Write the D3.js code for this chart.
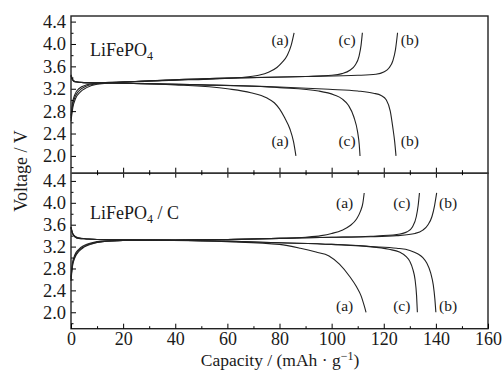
<!DOCTYPE html>
<html>
<head>
<meta charset="utf-8">
<script src="https://cdn.jsdelivr.net/npm/d3@7"></script>
<style>
  body { margin: 0; background: #fff; }
  text { font-family: "Liberation Serif", "DejaVu Serif", serif; fill: #1a1a1a; }
</style>
</head>
<body>
<svg id="chart" width="503" height="372"></svg>
<script>
// capacity (mAh/g), voltage (V)
const capacityTicks = [0, 20, 40, 60, 80, 100, 120, 140, 160];
const voltageTicks = [2.0, 2.4, 2.8, 3.2, 3.6, 4.0, 4.4];

// LiFePO4 panel
const lfpChargeA = [[0,2.72],[0.6,2.95],[1.5,3.1],[3,3.2],[6,3.27],[10,3.3],[25,3.33],[45,3.36],[65,3.4],[72,3.44],[76,3.5],[79,3.58],[81,3.67],[83,3.8],[84.5,3.98],[85.6,4.2]];
const lfpChargeC = [[0,2.67],[0.6,2.9],[1.6,3.06],[3,3.16],[6,3.25],[10,3.29],[30,3.34],[60,3.39],[90,3.42],[100,3.44],[104,3.47],[107,3.53],[109,3.62],[110.5,3.78],[111.3,3.98],[111.8,4.2]];
const lfpChargeB = [[0,2.62],[0.7,2.86],[1.8,3.03],[3.5,3.14],[6,3.22],[10,3.28],[30,3.34],[60,3.39],[90,3.42],[110,3.44],[117,3.46],[120,3.5],[122,3.57],[123.5,3.7],[124.5,3.9],[125.3,4.2]];
const lfpDischargeA = [[0,3.45],[0.5,3.38],[1.5,3.33],[5,3.31],[20,3.3],[40,3.27],[60,3.2],[69,3.13],[75,3.04],[78,2.95],[80,2.84],[82,2.68],[84,2.48],[85.4,2.25],[86.3,2.0]];
const lfpDischargeC = [[0,3.44],[0.5,3.37],[1.5,3.33],[5,3.31],[20,3.3],[50,3.27],[80,3.22],[95,3.16],[101,3.09],[104,3.02],[106.5,2.9],[108.5,2.7],[110,2.42],[110.6,2.2],[110.9,2.0]];
const lfpDischargeB = [[0,3.43],[0.5,3.36],[1.5,3.32],[5,3.31],[20,3.3],[50,3.27],[80,3.23],[99,3.19],[110,3.16],[116,3.12],[119,3.08],[121,3.0],[122.5,2.8],[123.5,2.5],[124.2,2.25],[124.7,2.0]];

// LiFePO4 / C panel
const lfpcChargeA = [[0,2.6],[0.5,2.85],[1.5,3.02],[3,3.13],[5,3.2],[8,3.26],[12,3.29],[20,3.31],[40,3.32],[60,3.33],[80,3.35],[90,3.37],[96,3.4],[100,3.44],[104,3.5],[107,3.58],[109.5,3.7],[111,3.84],[112,4.0],[112.5,4.18]];
const lfpcChargeC = [[0,2.64],[0.5,2.88],[1.5,3.05],[3,3.15],[5,3.22],[8,3.27],[12,3.3],[20,3.31],[40,3.32],[60,3.33],[80,3.35],[100,3.37],[115,3.39],[125,3.42],[129,3.47],[131,3.56],[132.5,3.75],[133.2,3.95],[133.7,4.18]];
const lfpcChargeB = [[0,2.57],[0.5,2.82],[1.5,3.0],[3,3.11],[5,3.19],[8,3.25],[12,3.29],[20,3.31],[40,3.32],[60,3.33],[80,3.35],[100,3.37],[115,3.38],[125,3.4],[132,3.44],[135,3.5],[137,3.6],[138.5,3.75],[139.5,3.95],[140.3,4.18]];
const lfpcDischargeA = [[0,3.56],[0.5,3.46],[1.5,3.39],[3,3.36],[6,3.34],[10,3.33],[30,3.32],[60,3.29],[80,3.24],[88,3.17],[94,3.1],[99,3.03],[103,2.88],[107,2.65],[109.5,2.47],[111.3,2.3],[112.5,2.12],[113.2,2.0]];
const lfpcDischargeC = [[0,3.55],[0.5,3.45],[1.5,3.38],[3,3.35],[6,3.34],[10,3.33],[30,3.32],[60,3.3],[80,3.27],[100,3.24],[115,3.2],[122,3.15],[126,3.1],[128.5,3.02],[130,2.93],[131.2,2.78],[132,2.6],[132.6,2.3],[132.9,2.0]];
const lfpcDischargeB = [[0,3.55],[0.5,3.45],[1.5,3.38],[3,3.35],[6,3.34],[10,3.33],[30,3.32],[60,3.3],[80,3.27],[100,3.24],[115,3.2],[125,3.17],[130,3.13],[133,3.07],[135,3.0],[136.5,2.9],[138,2.72],[139,2.5],[139.6,2.25],[140,2.0]];

// curve labels: [capacity, voltage, text]
const lfpLabels = [[80.2,4.07,'(a)'],[105.9,4.07,'(c)'],[130,4.07,'(b)'],[80.2,2.27,'(a)'],[105.9,2.27,'(c)'],[130,2.27,'(b)']];
const lfpcLabels = [[105,4.01,'(a)'],[126.9,4.01,'(c)'],[144.7,4.01,'(b)'],[105,2.13,'(a)'],[126.9,2.13,'(c)'],[144.7,2.13,'(b)']];

const serif = '"Liberation Serif", "DejaVu Serif", serif';
const svg = d3.select('#chart');
const left = 71, right = 488;
const x = d3.scaleLinear().domain([0, 160]).range([left, right]);

const panels = [
  {top: 16, bottom: 172.7, domain: [1.7, 4.5], curves: [lfpChargeA, lfpChargeC, lfpChargeB, lfpDischargeA, lfpDischargeC, lfpDischargeB], labels: lfpLabels, carbon: false},
  {top: 172.7, bottom: 328.7, domain: [1.7, 4.55], curves: [lfpcChargeA, lfpcChargeC, lfpcChargeB, lfpcDischargeA, lfpcDischargeC, lfpcDischargeB], labels: lfpcLabels, carbon: true}
];

const minorV = d3.range(1.8, 4.51, 0.2).map(v => +v.toFixed(1)).filter(v => voltageTicks.indexOf(v) < 0);
const minorC = d3.range(10, 160, 20);

panels.forEach(p => {
  const y = d3.scaleLinear().domain(p.domain).range([p.bottom, p.top]);
  const g = svg.append('g');

  const line = d3.line()
    .x(d => x(d[0]))
    .y(d => y(d[1]))
    .curve(d3.curveMonotoneX);

  g.selectAll('path.curve')
    .data(p.curves)
    .enter().append('path')
    .attr('class', 'curve')
    .attr('d', line)
    .attr('fill', 'none')
    .attr('stroke', '#222')
    .attr('stroke-width', 1.1);

  // left axis, ticks inward
  const ya = g.append('g')
    .attr('transform', `translate(${left},0)`)
    .call(d3.axisLeft(y).tickValues(voltageTicks).tickFormat(d3.format('.1f')).tickSizeInner(-5).tickSizeOuter(0).tickPadding(5));
  ya.select('.domain').remove();
  ya.selectAll('text').style('font-size', '18.5px').style('font-family', serif).attr('fill', '#1a1a1a');
  g.append('g')
    .attr('transform', `translate(${left},0)`)
    .call(d3.axisLeft(y).tickValues(minorV).tickFormat('').tickSizeInner(-2.5).tickSizeOuter(0))
    .select('.domain').remove();

  g.selectAll('text.lab')
    .data(p.labels)
    .enter().append('text')
    .attr('class', 'lab')
    .attr('x', d => x(d[0]))
    .attr('y', d => y(d[1]))
    .attr('dy', '0.35em')
    .attr('text-anchor', 'middle')
    .style('font-size', '15.5px')
    .text(d => d[2]);

  const title = g.append('text')
    .attr('x', 90)
    .attr('y', p.carbon ? 219 : 56)
    .style('font-size', '18px');
  title.append('tspan').text('LiFePO');
  title.append('tspan').attr('dy', 4).style('font-size', '12px').text('4');
  if (p.carbon) title.append('tspan').attr('dy', -4).text(' / C');
});

// frame
svg.append('rect')
  .attr('x', left).attr('y', 16)
  .attr('width', right - left).attr('height', 328.7 - 16)
  .attr('fill', 'none').attr('stroke', '#222').attr('stroke-width', 1.4);

// divider axis with crossing ticks
const mid = svg.append('g').attr('transform', 'translate(0,172.7)');
mid.call(d3.axisBottom(x).tickValues(capacityTicks.slice(1, -1)).tickFormat('').tickSizeInner(5).tickSizeOuter(0));
mid.call(g => g.selectAll('.tick line').attr('y1', -5));
mid.append('g').call(d3.axisBottom(x).tickValues(minorC).tickFormat('').tickSizeInner(2.5).tickSizeOuter(0))
  .call(g => g.selectAll('.tick line').attr('y1', -2.5));
mid.selectAll('.domain').attr('stroke', '#333').attr('stroke-width', 1.4);

// bottom axis, ticks inward
const xa = svg.append('g')
  .attr('transform', 'translate(0,328.7)')
  .call(d3.axisBottom(x).tickValues(capacityTicks).tickSizeInner(-5).tickSizeOuter(0).tickPadding(4));
xa.select('.domain').remove();
xa.selectAll('text').style('font-size', '18px').style('font-family', serif).attr('fill', '#1a1a1a');
svg.append('g')
  .attr('transform', 'translate(0,328.7)')
  .call(d3.axisBottom(x).tickValues(minorC).tickFormat('').tickSizeInner(-2.5).tickSizeOuter(0))
  .select('.domain').remove();

// axis titles
const xt = svg.append('text')
  .attr('x', 280).attr('y', 366)
  .attr('text-anchor', 'middle')
  .style('font-size', '17.5px');
xt.append('tspan').text('Capacity / (mAh · g');
xt.append('tspan').attr('dy', -6).style('font-size', '12px').text('−1');
xt.append('tspan').attr('dy', 6).text(')');

svg.append('text')
  .attr('transform', 'translate(27,171) rotate(-90)')
  .attr('text-anchor', 'middle')
  .style('font-size', '18px')
  .text('Voltage / V');
</script>
</body>
</html>
